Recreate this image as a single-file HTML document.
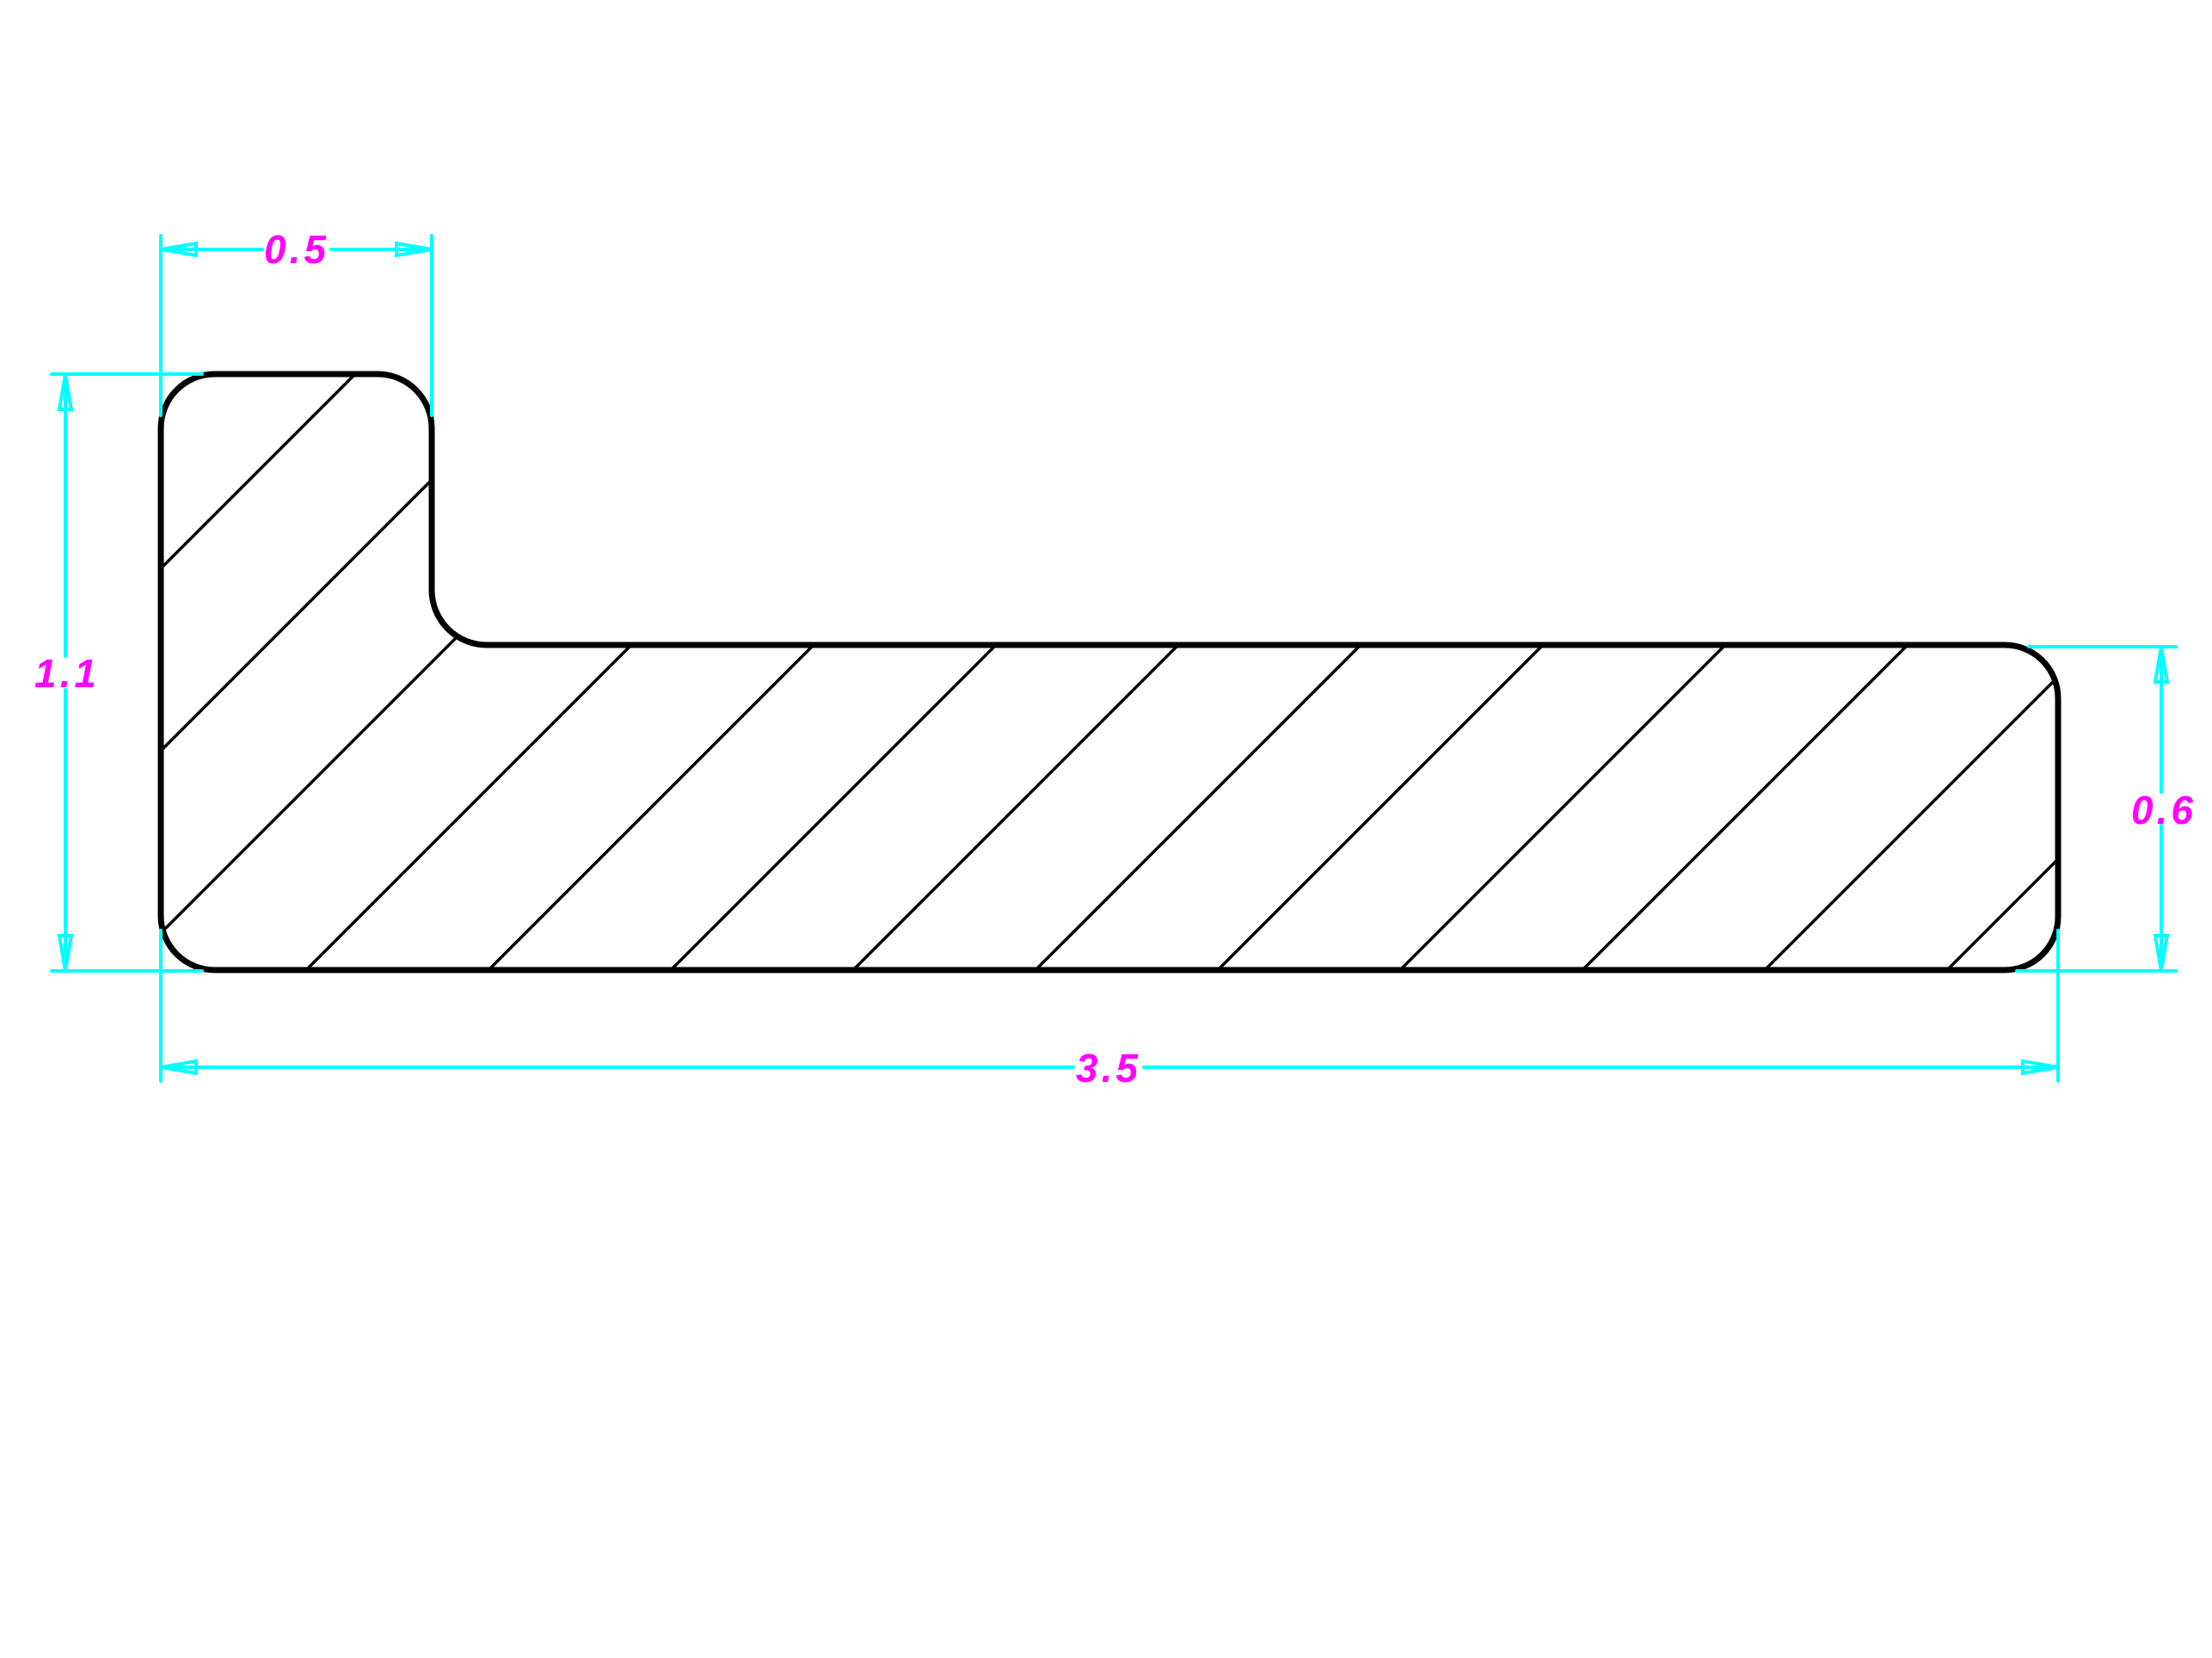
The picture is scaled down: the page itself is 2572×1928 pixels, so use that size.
<!DOCTYPE html>
<html><head><style>html,body{margin:0;padding:0;background:#fff;width:2572px;height:1928px;overflow:hidden}svg{display:block}</style></head>
<body>
<svg width="2572" height="1928" viewBox="0 0 2572 1928" xmlns="http://www.w3.org/2000/svg">
<defs>
<clipPath id="c"><path d="M250,435 H439 A63,63 0 0 1 502,498 V686 A64,64 0 0 0 566,750 H2331 A62,62 0 0 1 2393,812 V1066 A62,62 0 0 1 2331,1128 H250 A63,63 0 0 1 187,1065 V498 A63,63 0 0 1 250,435 Z"/></clipPath>
</defs>
<g clip-path="url(#c)" stroke="#000" stroke-width="3.5">
<line x1="-800" y1="1648" x2="1648" y2="-800"/>
<line x1="-800" y1="1860" x2="1860" y2="-800"/>
<line x1="-800" y1="2072" x2="2072" y2="-800"/>
<line x1="-800" y1="2284" x2="2284" y2="-800"/>
<line x1="-800" y1="2496" x2="2496" y2="-800"/>
<line x1="-800" y1="2708" x2="2708" y2="-800"/>
<line x1="-800" y1="2920" x2="2920" y2="-800"/>
<line x1="-800" y1="3132" x2="3132" y2="-800"/>
<line x1="-800" y1="3344" x2="3344" y2="-800"/>
<line x1="-800" y1="3556" x2="3556" y2="-800"/>
<line x1="-800" y1="3768" x2="3768" y2="-800"/>
<line x1="-800" y1="3980" x2="3980" y2="-800"/>
<line x1="-800" y1="4192" x2="4192" y2="-800"/>
<line x1="-800" y1="4404" x2="4404" y2="-800"/>
</g>
<path d="M250,435 H439 A63,63 0 0 1 502,498 V686 A64,64 0 0 0 566,750 H2331 A62,62 0 0 1 2393,812 V1066 A62,62 0 0 1 2331,1128 H250 A63,63 0 0 1 187,1065 V498 A63,63 0 0 1 250,435 Z" fill="none" stroke="#000" stroke-width="7"/>
<g stroke="#00ffff" stroke-width="4" fill="none" stroke-linecap="round">
<line x1="187" y1="274" x2="187" y2="483"/>
<line x1="502" y1="274" x2="502" y2="483"/>
<line x1="187" y1="290" x2="305" y2="290"/>
<line x1="385" y1="290" x2="502" y2="290"/>
<path d="M187,290 L228,283 L228,297 Z"/>
<path d="M502,290 L461,283 L461,297 Z"/>
<line x1="60" y1="435" x2="235" y2="435"/>
<line x1="60" y1="1129" x2="235" y2="1129"/>
<line x1="76" y1="435" x2="76" y2="763"/>
<line x1="76" y1="802" x2="76" y2="1129"/>
<path d="M76,435 L69,476 L83,476 Z"/>
<path d="M76,1129 L69,1088 L83,1088 Z"/>
<line x1="2359" y1="752" x2="2530" y2="752"/>
<line x1="2345" y1="1129" x2="2530" y2="1129"/>
<line x1="2513" y1="752" x2="2513" y2="921"/>
<line x1="2513" y1="960" x2="2513" y2="1129"/>
<path d="M2513,752 L2506,793 L2520,793 Z"/>
<path d="M2513,1129 L2506,1088 L2520,1088 Z"/>
<line x1="187" y1="1082" x2="187" y2="1257"/>
<line x1="2393" y1="1082" x2="2393" y2="1257"/>
<line x1="187" y1="1241" x2="1248" y2="1241"/>
<line x1="1330" y1="1241" x2="2393" y2="1241"/>
<path d="M187,1241 L228,1234 L228,1248 Z"/>
<path d="M2393,1241 L2352,1234 L2352,1248 Z"/>
</g>
<g fill="#ff00ff" font-family="Liberation Sans, sans-serif" font-style="italic" font-weight="bold" font-size="46" text-anchor="middle" letter-spacing="4">
<text x="345" y="306">0.5</text>
<text x="78" y="799">1.1</text>
<text x="2516" y="958">0.6</text>
<text x="1289" y="1258">3.5</text>
</g>
</svg>
</body></html>
